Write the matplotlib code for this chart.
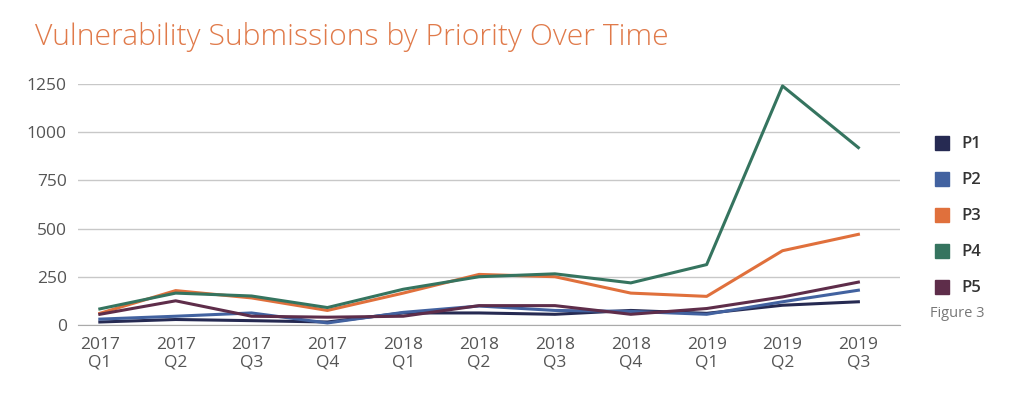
import numpy as np
import matplotlib.pyplot as plt

# данные
quarters = ["2017\nQ1", "2017\nQ2", "2017\nQ3", "2017\nQ4", "2018\nQ1", "2018\nQ2",
            "2018\nQ3", "2018\nQ4", "2019\nQ1", "2019\nQ2", "2019\nQ3"]
p1 = [15, 28, 22, 15, 62, 62, 55, 75, 60, 102, 120]
p2 = [30, 45, 62, 10, 65, 98, 75, 70, 55, 120, 180]
p3 = [60, 178, 140, 75, 165, 262, 250, 165, 148, 385, 470]
p4 = [83, 165, 150, 90, 185, 250, 265, 218, 313, 1240, 920]
p5 = [55, 125, 45, 40, 45, 100, 100, 55, 85, 145, 222]
names = ["P1", "P2", "P3", "P4", "P5"]
colors = ["#262a52", "#4262a0", "#e0703c", "#35745f", "#5e2d4a"]

plt.rcParams['font.family'] = ['Open Sans', 'DejaVu Sans']

fig = plt.figure(figsize=(10.24, 4.16), dpi=100)
ax = fig.add_axes([0.076, 0.219, 0.803, 0.579])

x = np.arange(len(quarters))
handles = []
for vals, c in zip([p1, p2, p3, p4, p5], colors):
    ax.plot(x, vals, color=c, linewidth=2.2, clip_on=False)
    handles.append(plt.Line2D([], [], marker='s', linestyle='none', color=c,
                              markersize=10))

ax.set_xlim(-0.29, 10.55)
ax.set_ylim(0, 1250)
ax.set_yticks([0, 250, 500, 750, 1000, 1250])
ax.set_xticks(x)
ax.set_xticklabels(quarters, linespacing=1.1)
ax.yaxis.grid(True, color="#c8c8c8", linewidth=1)
ax.set_axisbelow(True)
for s in ["top", "right", "left"]:
    ax.spines[s].set_visible(False)
ax.spines["bottom"].set_color("#aaaaaa")
ax.tick_params(length=0, colors="#555555", labelsize=12.5)
ax.tick_params(axis='y', pad=8)
ax.tick_params(axis='x', pad=9)

fig.text(0.034, 0.91, "Vulnerability Submissions by Priority Over Time",
         color="#e07a4a", fontsize=21.7, fontweight="light", va="center")

leg = fig.legend(handles, names, loc="upper left", bbox_to_anchor=(0.897, 0.708),
                 frameon=False, fontsize=12, labelspacing=1.2, handletextpad=0.7,
                 handlelength=1.0)
for t in leg.get_texts():
    t.set_color("#333333")
    t.set_fontweight("semibold")
fig.text(0.908, 0.247, "Figure 3", color="#777777", fontsize=10.5, va="center")

plt.savefig("out.png", dpi=100)
